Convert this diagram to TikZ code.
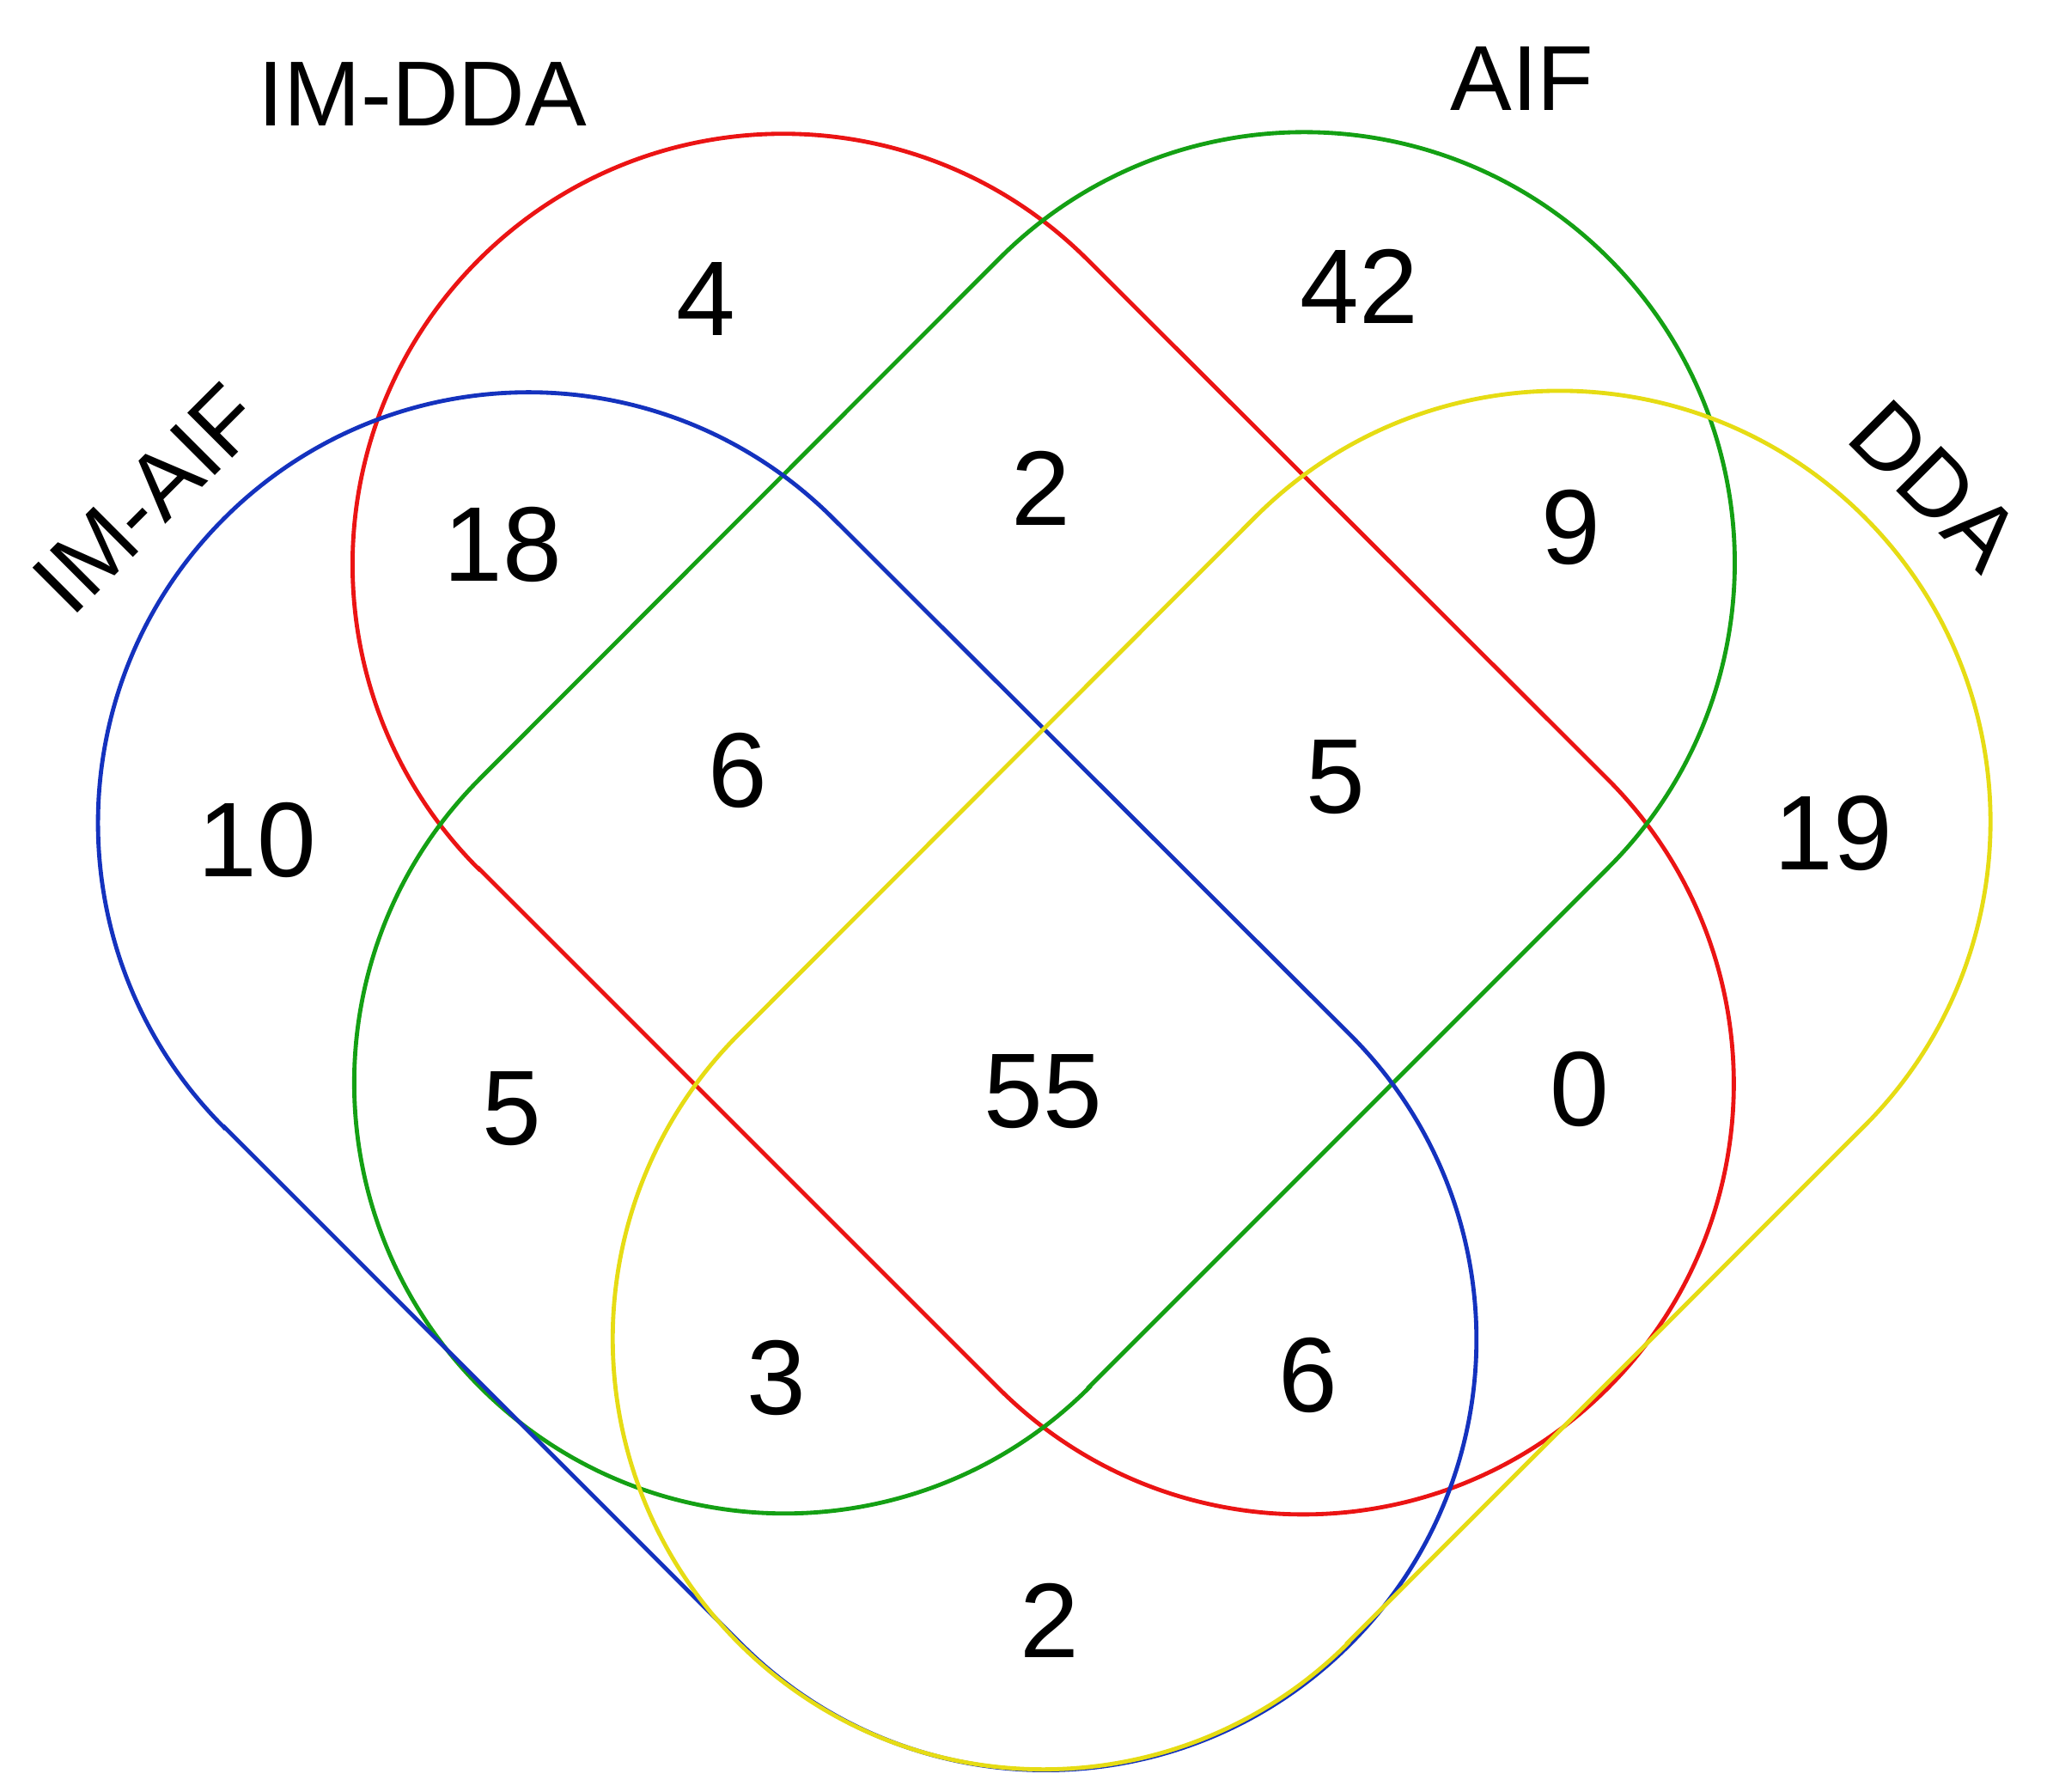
\documentclass[tikz,border=0pt]{standalone}
\usepackage{fontspec}
\setmainfont{Liberation Sans}
\definecolor{vred}{RGB}{235,20,20}
\definecolor{vgreen}{RGB}{20,160,20}
\definecolor{vblue}{RGB}{20,50,190}
\definecolor{vyellow}{RGB}{230,220,20}
\tikzset{num/.style={font=\fontsize{23}{26}\selectfont},
  lab/.style={font=\fontsize{20}{24}\selectfont},
  caps/.style={line width=0.9pt}}
\newcommand{\capsule}[5]{%
 \begin{scope}[shift={(#1)},rotate=#2]
 \draw[caps,#5] (0,-328) -- (#3,-328) arc[start angle=-90,end angle=90,radius=#4] -- (0,328) arc[start angle=90,end angle=270,radius=#4] -- cycle;
 \end{scope}}
\begin{document}
\begin{tikzpicture}[x=0.01cm,y=0.01cm]
\useasboundingbox (0,0) rectangle (1560,1365);
\capsule{597,935}{-45}{560}{3.28cm}{vred}
\capsule{598,540}{45}{560}{3.28cm}{vgreen}
\capsule{403,738}{-45}{557}{3.28cm}{vblue}
\capsule{795,345}{45}{557}{3.28cm}{vyellow}
\node[lab] (l1) at (322,1293) {IM-DDA};
\node[lab] (l2) at (1160,1305) {AIF};
\node[lab,rotate=45] (l3) at (112,985) {IM-AIF};
\node[lab,rotate=-45] (l4) at (1475,995) {DDA};
\node[num] (n1) at (538,1137) {4};
\node[num] (n2) at (1036,1147) {42};
\node[num] (n3) at (383,950) {18};
\node[num] (n4) at (793,993) {2};
\node[num] (n5) at (1197,963) {9};
\node[num] (n6) at (196,725) {10};
\node[num] (n7) at (562,778) {6};
\node[num] (n8) at (1018,773) {5};
\node[num] (n9) at (1397,730) {19};
\node[num] (n10) at (390,520) {5};
\node[num] (n11) at (795,533) {55};
\node[num] (n12) at (1204,535) {0};
\node[num] (n13) at (592,315) {3};
\node[num] (n14) at (997,317) {6};
\node[num] (n15) at (800,130) {2};
\end{tikzpicture}
\end{document}
